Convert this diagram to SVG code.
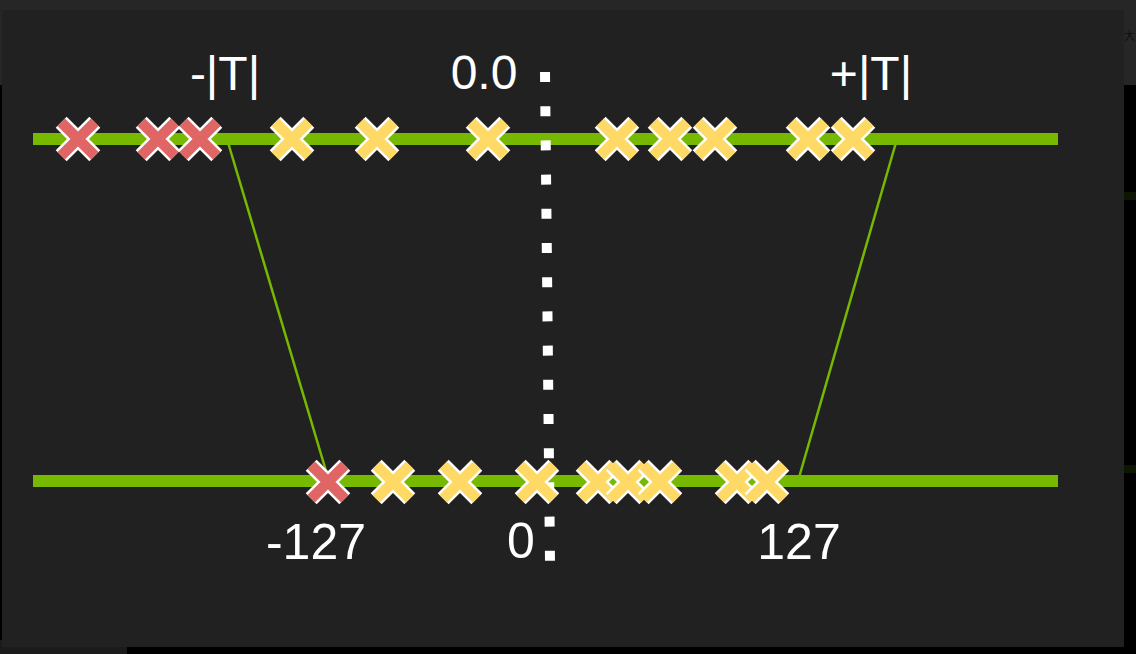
<svg xmlns="http://www.w3.org/2000/svg" xmlns:xlink="http://www.w3.org/1999/xlink" width="1136" height="654" viewBox="0 0 1136 654">
  <style>
    .lbl { font-family: "Liberation Sans", Arial, sans-serif; fill: #ffffff; text-anchor: middle; }
    .top { font-size: 48px; }
    .bot { font-size: 50px; }
    .axis { fill: #76b900; }
    .conn { stroke: #76b900; stroke-width: 2.5; fill: none; }
    .xo { stroke: #ffffff; stroke-width: 15.5; fill: none; stroke-linecap: butt; }
    .xr { stroke: #e06666; stroke-width: 10.5; fill: none; stroke-linecap: butt; }
    .xy { stroke: #ffd966; stroke-width: 10.5; fill: none; stroke-linecap: butt; }
  </style>
  <defs>
    <path id="xs" d="M-16.8,-16.8 L16.8,16.8 M16.8,-16.8 L-16.8,16.8"/>
    <g id="redX"><use xlink:href="#xs" class="xo"/><use xlink:href="#xs" class="xr"/></g>
    <g id="yelX"><use xlink:href="#xs" class="xo"/><use xlink:href="#xs" class="xy"/></g>
  </defs>

  <!-- surrounding screenshot background -->
  <rect x="0" y="0" width="1136" height="654" fill="#000000"/>
  <rect x="0" y="0" width="1136" height="85" fill="#262626"/>
  <rect x="0" y="640" width="127" height="14" fill="#1b1b1b"/>
  <rect x="1124" y="192" width="12" height="8" fill="#0d1600"/>
  <rect x="1124" y="465" width="12" height="8" fill="#0d1600"/>
  <text x="1124" y="40" font-family="'Noto Sans CJK SC', sans-serif" font-size="11" fill="#0e0e0e">大</text>

  <!-- panel -->
  <rect id="panel" x="2" y="10" width="1122" height="637" fill="#212121"/>

  <!-- axes -->
  <g id="axis-float"><rect class="axis" x="33" y="133" width="1025" height="12"/></g>
  <g id="axis-int8"><rect class="axis" x="33" y="475" width="1025" height="12"/></g>

  <!-- connectors -->
  <g id="connectors">
    <line class="conn" x1="227" y1="139" x2="329" y2="481"/>
    <line class="conn" x1="897" y1="139" x2="798" y2="481"/>
    <line x1="545" y1="72" x2="550" y2="562" stroke="#ffffff" stroke-width="10" stroke-dasharray="10 24.2"/>
  </g>

  <!-- top crosses -->
  <g id="top-crosses">
    <use xlink:href="#redX" x="78" y="139"/>
    <use xlink:href="#redX" x="158" y="139"/>
    <use xlink:href="#redX" x="200" y="139"/>
    <use xlink:href="#yelX" x="292" y="139"/>
    <use xlink:href="#yelX" x="377" y="139"/>
    <use xlink:href="#yelX" x="488" y="139"/>
    <use xlink:href="#yelX" x="617" y="139"/>
    <use xlink:href="#yelX" x="670" y="139"/>
    <use xlink:href="#yelX" x="715" y="139"/>
    <use xlink:href="#yelX" x="808" y="139"/>
    <use xlink:href="#yelX" x="853" y="139"/>
  </g>

  <!-- bottom crosses -->
  <g id="bottom-crosses">
    <use xlink:href="#redX" x="328" y="482"/>
    <use xlink:href="#yelX" x="393" y="482"/>
    <use xlink:href="#yelX" x="460" y="482"/>
    <use xlink:href="#yelX" x="537" y="482"/>
    <use xlink:href="#yelX" x="598" y="482"/>
    <use xlink:href="#yelX" x="628" y="482"/>
    <use xlink:href="#yelX" x="660" y="482"/>
    <use xlink:href="#yelX" x="737" y="482"/>
    <use xlink:href="#yelX" x="767" y="482"/>
  </g>

  <!-- labels -->
  <g id="labels">
    <text class="lbl top" x="225" y="90">-|T|</text>
    <text class="lbl top" x="484" y="89">0.0</text>
    <text class="lbl top" x="871" y="90">+|T|</text>
    <text class="lbl bot" x="316" y="559">-127</text>
    <text class="lbl bot" x="521" y="558">0</text>
    <text class="lbl bot" x="799" y="559">127</text>
  </g>
</svg>
